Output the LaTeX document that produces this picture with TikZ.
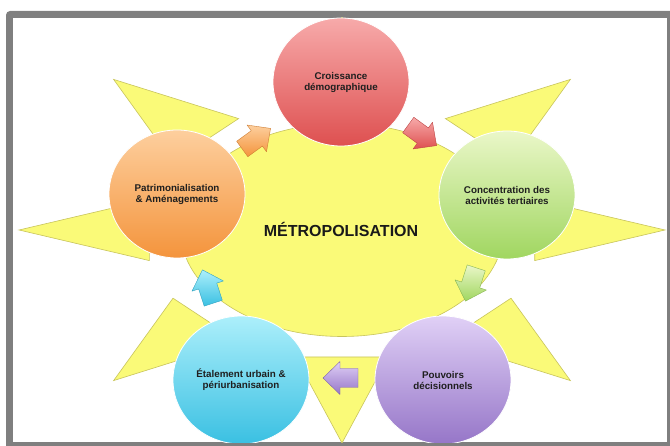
\documentclass[tikz,border=0pt]{standalone}
\usepackage{fontspec}
\setmainfont{Liberation Sans}
\usetikzlibrary{shapes.geometric}
\definecolor{sunfill}{RGB}{250,250,120}
\definecolor{sunline}{RGB}{200,196,92}
\definecolor{redtop}{RGB}{247,170,170}
\definecolor{redbot}{RGB}{222,80,80}
\definecolor{grntop}{RGB}{234,247,200}
\definecolor{grnbot}{RGB}{160,214,96}
\definecolor{purtop}{RGB}{224,208,246}
\definecolor{purbot}{RGB}{150,118,200}
\definecolor{blutop}{RGB}{172,239,251}
\definecolor{blubot}{RGB}{58,192,226}
\definecolor{orgtop}{RGB}{253,207,158}
\definecolor{orgbot}{RGB}{244,148,60}
\definecolor{framegray}{RGB}{127,127,127}
\tikzset{
  bubble/.style={ellipse, minimum width=136pt, minimum height=128pt, inner sep=0pt,
    align=center, font=\fontsize{9.8}{11}\selectfont\bfseries, text=black!88,
    draw=white, line width=0.8pt},
  sunshape/.style={fill=sunfill, draw=sunline, line width=0.6pt},
  title/.style={font=\fontsize{16}{18}\selectfont\bfseries, text=black!90}
}
\newcommand{\cycarrow}[5]{%
  \begin{scope}[shift={(#1,#2)}, rotate=#3]
    \draw[top color=#4, bottom color=#5, draw=#5!85!black, line width=0.4pt, line join=round]
      (-17,-9.5) -- (1,-9.5) -- (1,-16.5) -- (18,0) -- (1,16.5) -- (1,9.5) -- (-17,9.5) -- cycle;
  \end{scope}}
\begin{document}
\begin{tikzpicture}[x=1pt, y=-1pt]
\useasboundingbox (0,0) rectangle (670,446);
% frame
\fill[framegray, rounded corners=4pt] (6,11) rectangle (700,480);
\fill[white] (13,18) rectangle (666.5,442.5);
\begin{scope}
\clip (13,18) rectangle (666.5,442.5);
% sun
\path[sunshape]
  (665,230) -- (534.7,199.4) -- (534.7,260.6) -- cycle
  (570.4,79.4) -- (511.0,161.8) -- (445.4,118.6) -- cycle
  (342,17) -- (388.4,103.0) -- (295.6,103.0) -- cycle
  (113.6,79.4) -- (238.6,118.6) -- (173.0,161.8) -- cycle
  (19,230) -- (149.4,199.4) -- (149.4,260.6) -- cycle
  (113.6,380.6) -- (173.0,298.2) -- (238.6,341.4) -- cycle
  (342,443) -- (295.6,357.0) -- (388.4,357.0) -- cycle
  (570.4,380.6) -- (445.4,341.4) -- (511.0,298.2) -- cycle
  (342,230) ellipse [x radius=161.5, y radius=106.5];
\node[title] (metro) at (341,229) {MÉTROPOLISATION};
% arrows
\cycarrow{256}{139}{36}{orgtop}{orgbot}
\cycarrow{422}{135}{-36}{redtop}{redbot}
\cycarrow{471}{284}{-108}{grntop}{grnbot}
\cycarrow{341}{378}{180}{purtop}{purbot}
\cycarrow{208}{287}{108}{blutop}{blubot}
% bubbles
\node[bubble, top color=redtop, bottom color=redbot] (croiss) at (341,82) {Croissance\\démographique};
\node[bubble, top color=grntop, bottom color=grnbot] (conc) at (507,195) {Concentration des\\activités tertiaires};
\node[bubble, top color=purtop, bottom color=purbot] (pouv) at (443,380) {Pouvoirs\\décisionnels};
\node[bubble, top color=blutop, bottom color=blubot] (etal) at (241,380) {Étalement urbain \&\\périurbanisation};
\node[bubble, top color=orgtop, bottom color=orgbot] (patri) at (177,194) {Patrimonialisation\\\& Aménagements};
\end{scope}
\end{tikzpicture}
\end{document}
